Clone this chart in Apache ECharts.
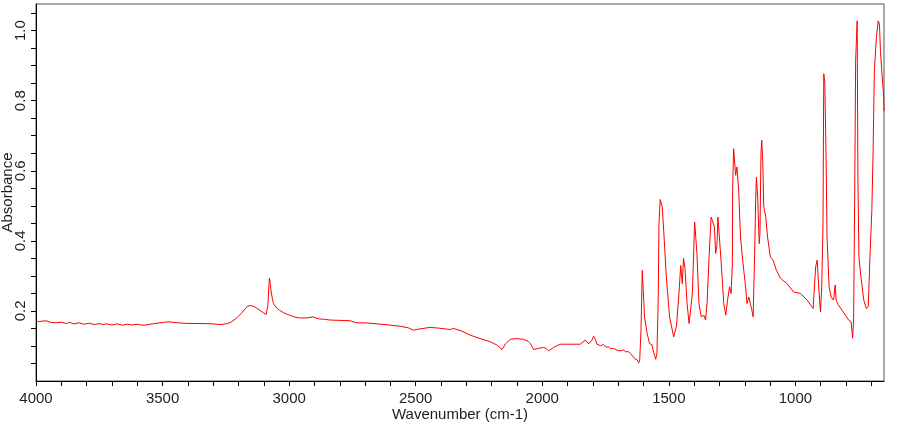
<!DOCTYPE html>
<html>
<head>
<meta charset="utf-8">
<title>IR spectrum</title>
<script src="https://cdn.jsdelivr.net/npm/echarts@6/dist/echarts.min.js"></script>
<style>
	html, body { margin: 0; padding: 0; background: #fff; }
	#chart { width: 900px; height: 425px; }
</style>
</head>
<body>
<div id="chart"></div>
<script>
	// wavenumber (cm-1) and absorbance
	const wavenumbers = [
		4000, 3985, 3960, 3940, 3920, 3900, 3880, 3868, 3850, 3830, 3810, 3790, 3770, 3750, 3736, 3720,
		3700, 3680, 3657, 3640, 3620, 3600, 3580, 3565, 3540, 3510, 3490, 3473, 3455, 3420, 3380, 3341,
		3300, 3270, 3242, 3225, 3209, 3190, 3175, 3163, 3150, 3137, 3120, 3104, 3091, 3084, 3080, 3078,
		3074, 3071, 3066, 3062, 3050, 3038, 3020, 2999, 2980, 2959, 2930, 2906, 2895, 2880, 2860, 2838,
		2800, 2759, 2732, 2700, 2650, 2601, 2560, 2530, 2509, 2490, 2443, 2410, 2364, 2350, 2344, 2320,
		2285, 2250, 2206, 2180, 2159, 2145, 2126, 2100, 2074, 2055, 2047, 2034, 2015, 1995, 1985, 1975,
		1955, 1929, 1890, 1850, 1830, 1817, 1805, 1797, 1790, 1784, 1770, 1758, 1748, 1740, 1730, 1718,
		1705, 1690, 1680, 1670, 1660, 1652, 1645, 1635, 1625, 1619, 1615, 1610, 1605, 1600, 1596, 1586,
		1576, 1566, 1562, 1552, 1547, 1542, 1539, 1534, 1526, 1518, 1510, 1497, 1481, 1470, 1460, 1453,
		1447, 1442, 1436, 1428, 1420, 1415, 1407, 1398, 1394, 1389, 1381, 1372, 1362, 1355, 1349, 1341,
		1333, 1328, 1320, 1315, 1310, 1306, 1302, 1293, 1283, 1275, 1268, 1260, 1254, 1249, 1248, 1244,
		1240, 1236, 1231, 1224, 1217, 1207, 1198, 1191, 1184, 1178, 1172, 1167, 1161, 1157, 1154, 1149,
		1143, 1140, 1136, 1133, 1129, 1125, 1117, 1110, 1099, 1088, 1075, 1059, 1033, 1007, 980, 954,
		930, 925, 920, 914, 908, 901, 896, 893, 891, 888, 884, 879, 875, 867, 859, 849,
		843, 839, 830, 816, 802, 790, 780, 774, 770, 766, 762, 756, 753, 749, 741, 730,
		720, 712, 706, 698, 693, 688, 680, 673, 668, 664, 659, 651, 650
	]
	const absorbance = [
		0.169, 0.170, 0.172, 0.167, 0.166, 0.168, 0.164, 0.167, 0.163, 0.166, 0.162, 0.165, 0.161, 0.164, 0.1615, 0.163,
		0.160, 0.163, 0.1595, 0.162, 0.160, 0.162, 0.159, 0.160, 0.163, 0.166, 0.168, 0.169, 0.167, 0.165, 0.164, 0.164,
		0.163, 0.161, 0.164, 0.170, 0.179, 0.192, 0.205, 0.2146, 0.215, 0.212, 0.204, 0.196, 0.190, 0.215, 0.270, 0.294,
		0.275, 0.254, 0.235, 0.221, 0.209, 0.202, 0.194, 0.188, 0.183, 0.180, 0.180, 0.183, 0.180, 0.177, 0.176, 0.174,
		0.173, 0.172, 0.166, 0.166, 0.163, 0.1595, 0.156, 0.152, 0.145, 0.148, 0.153, 0.151, 0.147, 0.150, 0.147, 0.143,
		0.131, 0.122, 0.112, 0.103, 0.090, 0.106, 0.119, 0.121, 0.119, 0.113, 0.107, 0.090, 0.093, 0.096, 0.093, 0.086,
		0.096, 0.105, 0.105, 0.105, 0.117, 0.106, 0.115, 0.128, 0.118, 0.105, 0.101, 0.104, 0.096, 0.098, 0.092, 0.093,
		0.088, 0.086, 0.089, 0.083, 0.084, 0.079, 0.074, 0.064, 0.060, 0.052, 0.060, 0.145, 0.316, 0.318, 0.183, 0.136,
		0.107, 0.103, 0.088, 0.062, 0.079, 0.231, 0.449, 0.518, 0.497, 0.402, 0.297, 0.183, 0.126, 0.155, 0.250, 0.330,
		0.278, 0.350, 0.321, 0.221, 0.164, 0.160, 0.250, 0.454, 0.459, 0.364, 0.221, 0.183, 0.188, 0.174, 0.221, 0.354,
		0.468, 0.473, 0.440, 0.364, 0.387, 0.468, 0.468, 0.335, 0.221, 0.188, 0.231, 0.269, 0.250, 0.335, 0.544, 0.663,
		0.668, 0.587, 0.611, 0.544, 0.411, 0.335, 0.278, 0.221, 0.240, 0.245, 0.202, 0.183, 0.364, 0.516, 0.582, 0.525,
		0.392, 0.421, 0.649, 0.687, 0.630, 0.497, 0.468, 0.411, 0.354, 0.345, 0.316, 0.293, 0.278, 0.254, 0.250, 0.231,
		0.207, 0.202, 0.326, 0.345, 0.269, 0.197, 0.269, 0.373, 0.449, 0.877, 0.853, 0.649, 0.411, 0.269, 0.240, 0.231,
		0.274, 0.231, 0.217, 0.202, 0.188, 0.174, 0.169, 0.122, 0.174, 0.506, 0.915, 1.028, 0.573, 0.354, 0.297, 0.231,
		0.207, 0.212, 0.345, 0.487, 0.658, 0.886, 0.981, 1.028, 1.019, 0.943, 0.886, 0.810, 0.770
	]
	// axis ticks and labels
	const xLabels = [4000, 3500, 3000, 2500, 2000, 1500, 1000]
	const xTicks = [4000, 3900, 3800, 3700, 3600, 3500, 3400, 3300, 3200, 3100, 3000, 2900, 2800, 2700, 2600,
		2500, 2400, 2300, 2200, 2100, 2000, 1900, 1800, 1700, 1600, 1500, 1400, 1300, 1200, 1100, 1000, 900, 800, 700]
	const yLabels = [0.2, 0.4, 0.6, 0.8, 1.0]
	const yTicks = [0.05, 0.1, 0.15, 0.2, 0.25, 0.3, 0.35, 0.4, 0.45, 0.5, 0.55, 0.6, 0.65, 0.7, 0.75, 0.8,
		0.85, 0.9, 0.95, 1.0, 1.05]

	const points = wavenumbers.map((w, i) => [w, absorbance[i]])
	const textColor = '#1e1e1e'
	const font = '"Liberation Sans", Arial, sans-serif'

	const chart = echarts.init(document.getElementById('chart'), null, { renderer: 'canvas' })
	chart.setOption({
		animation: false,
		backgroundColor: '#fff',
		grid: {
			left: 36, right: 16, top: 4, bottom: 44,
			show: true,
			borderColor: '#555',
			borderWidth: 1,
			outerBoundsMode: 'none'
		},
		xAxis: {
			type: 'value',
			inverse: true,
			min: 650,
			max: 4000,
			name: 'Wavenumber (cm-1)',
			nameLocation: 'middle',
			nameGap: 26,
			nameMoveOverlap: false,
			nameTextStyle: { color: textColor, fontSize: 15, fontFamily: font },
			axisLine: { show: true, onZero: false, lineStyle: { color: '#000', width: 1 } },
			axisTick: { show: true, length: 5, customValues: xTicks, lineStyle: { color: '#000' } },
			axisLabel: {
				customValues: xLabels,
				margin: 10,
				color: textColor,
				fontSize: 15,
				fontFamily: font,
				formatter: v => String(v)
			},
			splitLine: { show: false }
		},
		yAxis: {
			type: 'value',
			min: 0,
			max: 1.076,
			name: 'Absorbance',
			nameLocation: 'middle',
			nameRotate: 90,
			nameGap: 21,
			nameMoveOverlap: false,
			nameTextStyle: { color: textColor, fontSize: 15, fontFamily: font },
			axisLine: { show: true, onZero: false, lineStyle: { color: '#000', width: 1 } },
			axisTick: { show: true, length: 5, customValues: yTicks, lineStyle: { color: '#000' } },
			axisLabel: {
				customValues: yLabels,
				rotate: 90,
				margin: 8,
				color: textColor,
				fontSize: 15,
				fontFamily: font,
				formatter: v => v.toFixed(1)
			},
			splitLine: { show: false }
		},
		series: [{
			type: 'line',
			data: points,
			showSymbol: false,
			clip: true,
			lineStyle: { color: '#ff0000', width: 1 },
			itemStyle: { color: '#ff0000' }
		}]
	})
</script>
</body>
</html>
